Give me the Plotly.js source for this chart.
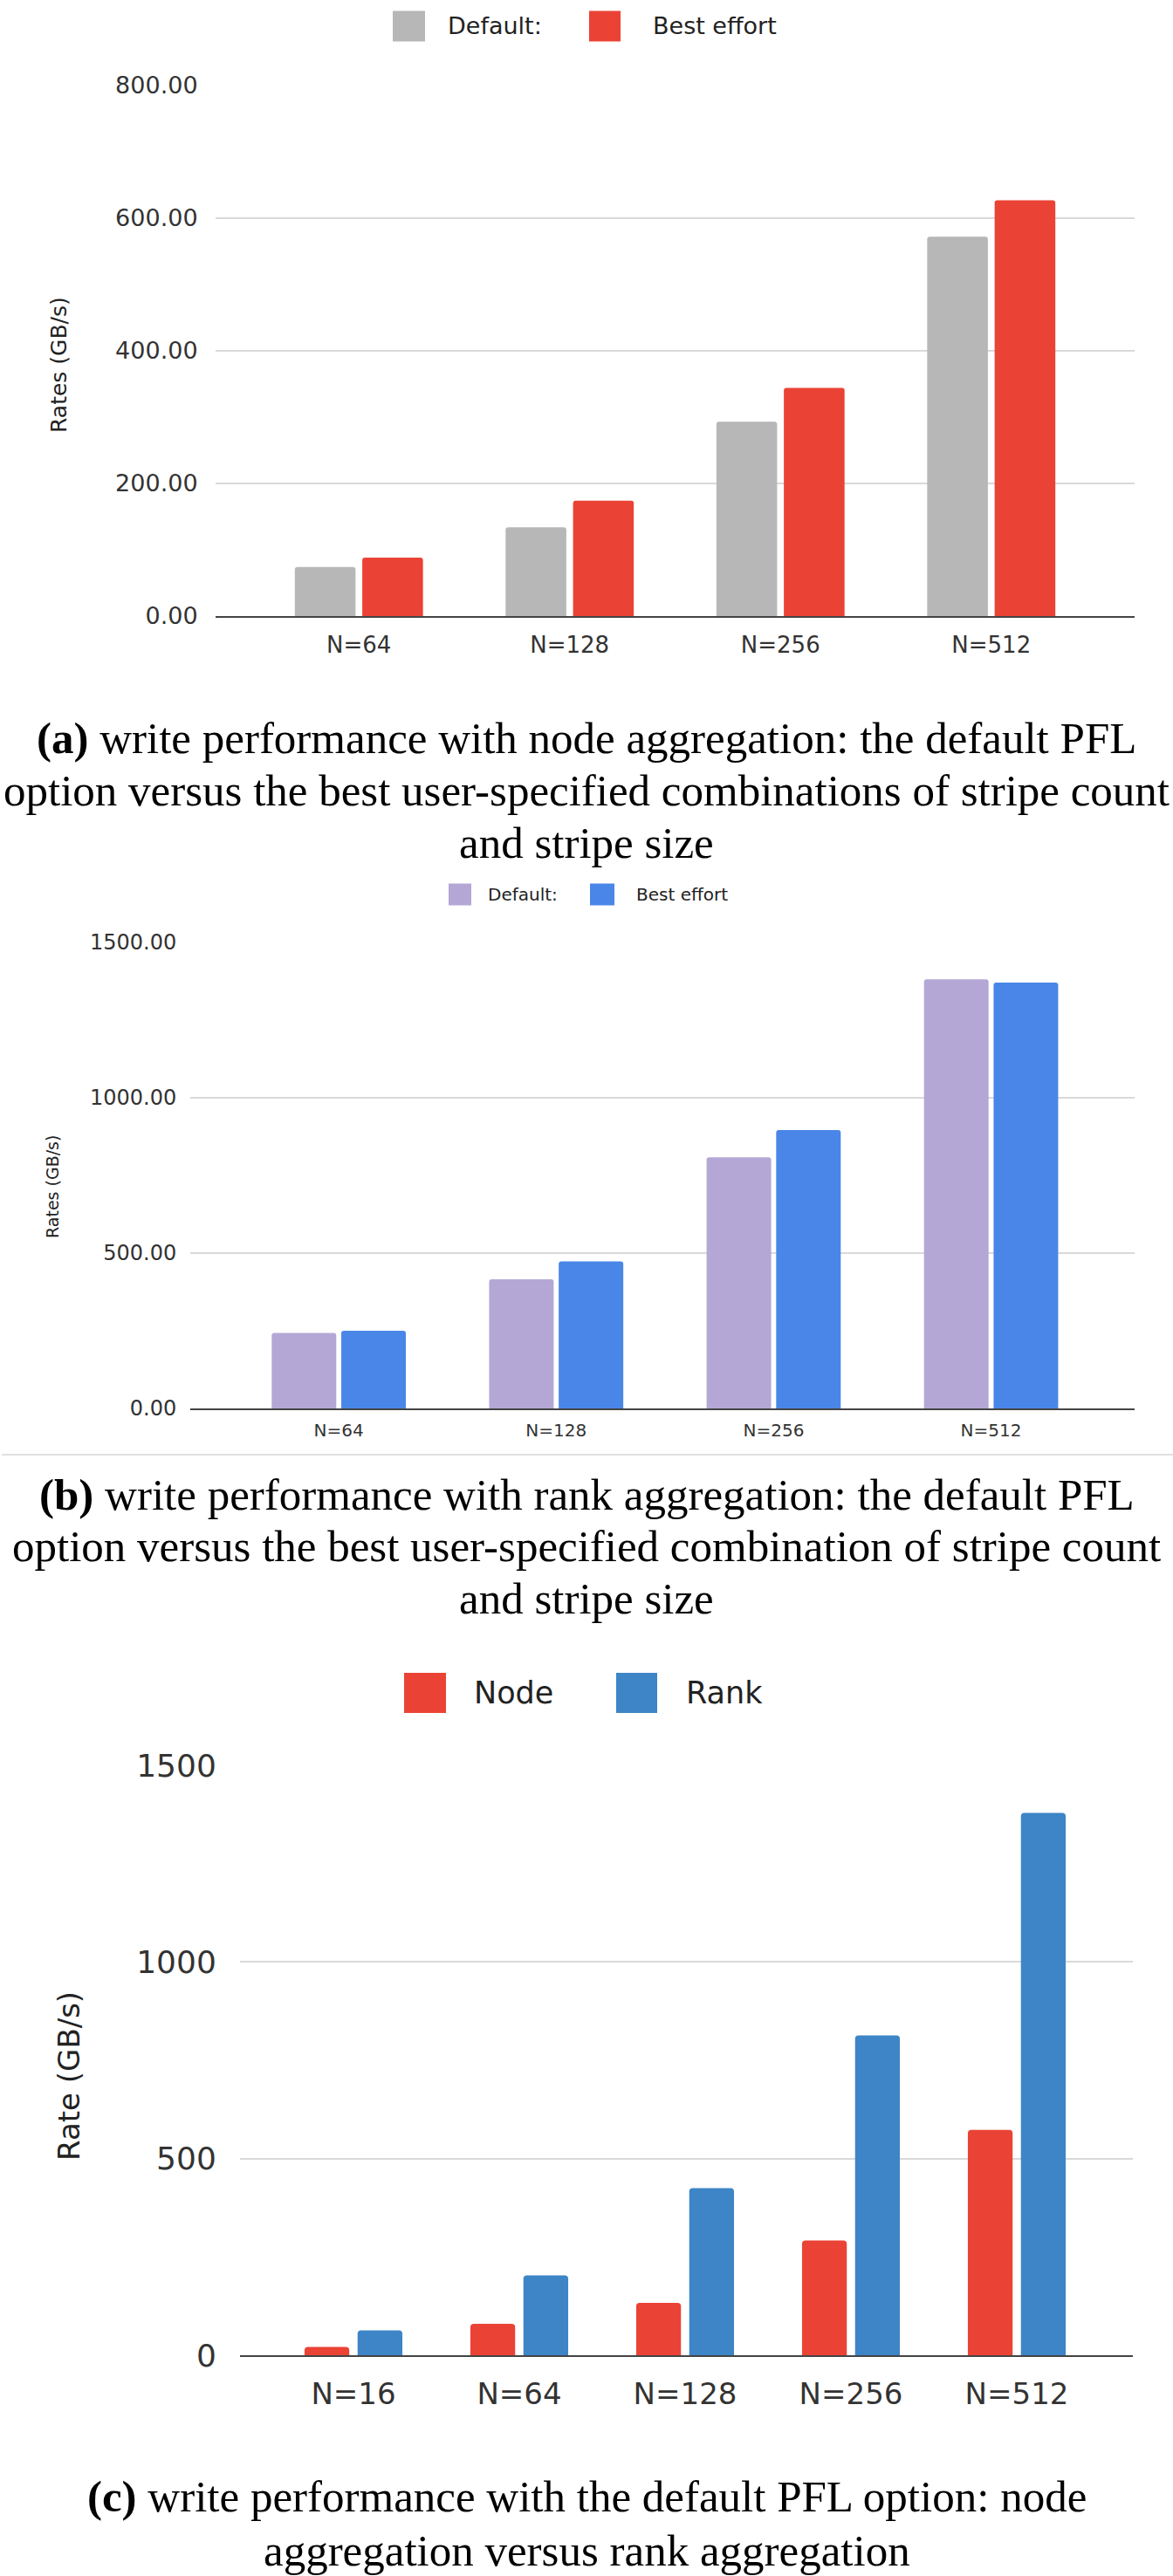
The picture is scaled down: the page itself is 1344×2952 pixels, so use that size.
<!DOCTYPE html>
<html>
<head>
<meta charset="utf-8">
<script src="https://cdn.plot.ly/plotly-3.0.1.min.js"></script>
<style>
  html, body { margin: 0; padding: 0; background: #ffffff; }
  #chart { width: 1344px; height: 2952px; }
</style>
</head>
<body>
<div id="chart"></div>
<script>
// ---------- data ----------
const catsA = ['N=64', 'N=128', 'N=256', 'N=512'];
const defaultA = [74, 134, 293, 572];
const bestA = [88, 174, 344, 627];
const namesA = ['Default:', 'Best effort'];

const catsB = ['N=64', 'N=128', 'N=256', 'N=512'];
const defaultB = [243, 416, 808, 1381];
const bestB = [250, 473, 896, 1371];
const namesB = ['Default:', 'Best effort'];

const catsC = ['N=16', 'N=64', 'N=128', 'N=256', 'N=512'];
const nodeC = [21, 80, 133, 292, 573];
const rankC = [63, 203, 425, 813, 1379];
const namesC = ['Node', 'Rank'];

const titleA = 'Rates (GB/s)';
const titleB = 'Rates (GB/s)';
const titleC = 'Rate (GB/s)';

const captionA = ['<b>(a)</b> write performance with node aggregation: the default PFL',
                  'option versus the best user-specified combinations of stripe count',
                  'and stripe size'];
const captionB = ['<b>(b)</b> write performance with rank aggregation: the default PFL',
                  'option versus the best user-specified combination of stripe count',
                  'and stripe size'];
const captionC = ['<b>(c)</b> write performance with the default PFL option: node',
                  'aggregation versus rank aggregation'];

// ---------- helpers (pixel -> paper) ----------
const W = 1344, H = 2952;
const px = x => x / W;
const py = y => 1 - y / H;

const SANS = 'DejaVu Sans, Arial, sans-serif';
const SERIF = 'Liberation Serif, Times New Roman, serif';
const TXT = '#333333';

const colA = ['#b7b7b7', '#ea4335'];
const colB = ['#b4a7d6', '#4a86e8'];
const colC = ['#ea4335', '#3d85c6'];

// ---------- traces ----------
const traces = [
  {type: 'bar', x: catsA, y: defaultA, name: namesA[0], xaxis: 'x', yaxis: 'y',
   marker: {color: colA[0], cornerradius: 3}, showlegend: false, hoverinfo: 'x+y'},
  {type: 'bar', x: catsA, y: bestA, name: namesA[1], xaxis: 'x', yaxis: 'y',
   marker: {color: colA[1], cornerradius: 3}, showlegend: false, hoverinfo: 'x+y'},
  {type: 'bar', x: catsB, y: defaultB, name: namesB[0], xaxis: 'x2', yaxis: 'y2', width: 0.297,
   marker: {color: colB[0], cornerradius: 3}, showlegend: false, hoverinfo: 'x+y'},
  {type: 'bar', x: catsB, y: bestB, name: namesB[1], xaxis: 'x2', yaxis: 'y2', width: 0.297,
   marker: {color: colB[1], cornerradius: 3}, showlegend: false, hoverinfo: 'x+y'},
  {type: 'bar', x: catsC, y: nodeC, name: namesC[0], xaxis: 'x3', yaxis: 'y3', width: 0.27,
   marker: {color: colC[0], cornerradius: 4}, showlegend: false, hoverinfo: 'x+y'},
  {type: 'bar', x: catsC, y: rankC, name: namesC[1], xaxis: 'x3', yaxis: 'y3', width: 0.27,
   marker: {color: colC[1], cornerradius: 4}, showlegend: false, hoverinfo: 'x+y'}
];

// ---------- axes ----------
function xAx(domain, range, anchor, fs, tl) {
  return {
    domain: domain, range: range, anchor: anchor, type: 'category',
    showgrid: false, zeroline: false,
    showline: true, linecolor: '#444444', linewidth: 2,
    ticks: 'outside', ticklen: tl, tickcolor: 'rgba(0,0,0,0)',
    tickfont: {family: SANS, size: fs, color: TXT},
    fixedrange: true
  };
}
function yAx(domain, range, dtick, fmt, anchor, fs, tl) {
  return {
    domain: domain, range: range, anchor: anchor, dtick: dtick, tick0: 0,
    tickformat: fmt,
    showgrid: true, gridcolor: '#d9d9d9', gridwidth: 2,
    zeroline: false, showline: false,
    ticks: 'outside', ticklen: tl, tickcolor: 'rgba(0,0,0,0)',
    tickfont: {family: SANS, size: fs, color: TXT},
    fixedrange: true
  };
}

// ---------- annotations & shapes ----------
const annotations = [];
const shapes = [];

function addText(text, x, y, size, font, opts) {
  annotations.push(Object.assign({
    text: text, x: px(x), y: py(y), xref: 'paper', yref: 'paper',
    showarrow: false, xanchor: 'center', yanchor: 'middle',
    font: {family: font, size: size, color: '#000000'}
  }, opts || {}));
}

function addLegend(names, colors, items, size, swH) {
  items.list.forEach((it, i) => {
    shapes.push({type: 'rect', xref: 'paper', yref: 'paper',
      x0: px(it.sx0), x1: px(it.sx1), y0: py(items.cy + swH / 2), y1: py(items.cy - swH / 2),
      fillcolor: colors[i], line: {width: 0}});
    addText(names[i], it.tx, items.cy, size, SANS,
      {xanchor: 'left', font: {family: SANS, size: size, color: '#222222'}});
  });
}

// legends
addLegend(namesA, colA, {cy: 30, list: [{sx0: 450, sx1: 487, tx: 511}, {sx0: 675, sx1: 711, tx: 746}]}, 27, 35);
addLegend(namesB, colB, {cy: 1025, list: [{sx0: 514, sx1: 540, tx: 557}, {sx0: 676, sx1: 704, tx: 727}]}, 20, 25);
addLegend(namesC, colC, {cy: 1940, list: [{sx0: 463, sx1: 511, tx: 541}, {sx0: 706, sx1: 753, tx: 784}]}, 35, 46);

// y titles
addText(titleA, 68, 418, 25, SANS, {textangle: -90, font: {family: SANS, size: 25, color: '#222222'}});
addText(titleB, 60, 1360, 19, SANS, {textangle: -90, font: {family: SANS, size: 19, color: '#222222'}});
addText(titleC, 79, 2379, 34, SANS, {textangle: -90, font: {family: SANS, size: 34, color: '#222222'}});

// captions
const capSize = 51;
[863, 923, 983].forEach((b, i) => addText(captionA[i], 672, b - 17, capSize, SERIF,
  {font: {family: SERIF, size: capSize, color: '#000000'}}));
[1730, 1789, 1849].forEach((b, i) => addText(captionB[i], 672, b - 17, capSize, SERIF,
  {font: {family: SERIF, size: capSize, color: '#000000'}}));
[2878, 2940].forEach((b, i) => addText(captionC[i], 672, b - 17, capSize, SERIF,
  {font: {family: SERIF, size: capSize, color: '#000000'}}));

// separator below chart (b)
shapes.push({type: 'line', xref: 'paper', yref: 'paper', x0: px(2), x1: px(1344), y0: py(1667), y1: py(1667),
  line: {color: '#e0e0e0', width: 2}});

const layout = {
  width: W, height: H,
  margin: {l: 0, r: 0, t: 0, b: 0, pad: 0},
  paper_bgcolor: '#ffffff', plot_bgcolor: '#ffffff',
  barmode: 'group', bargap: 0.36, bargroupgap: 0.1,
  showlegend: false,
  xaxis:  xAx([px(247), px(1300)], [-0.68, 3.68], 'y', 26, 9),
  yaxis:  yAx([py(706), py(98)], [0, 800], 200, '.2f', 'x', 27, 14),
  xaxis2: xAx([px(218), px(1300)], [-0.683, 3.66], 'y2', 20, 6),
  yaxis2: yAx([py(1614), py(1080)], [0, 1500], 500, '.2f', 'x2', 24, 10),
  xaxis3: xAx([px(275), px(1298)], [-0.684, 4.7], 'y3', 34, 13),
  yaxis3: yAx([py(2699), py(2023)], [0, 1500], 500, 'd', 'x3', 36, 19),
  annotations: annotations,
  shapes: shapes
};

Plotly.newPlot('chart', traces, layout, {staticPlot: true, displayModeBar: false});
</script>
</body>
</html>
